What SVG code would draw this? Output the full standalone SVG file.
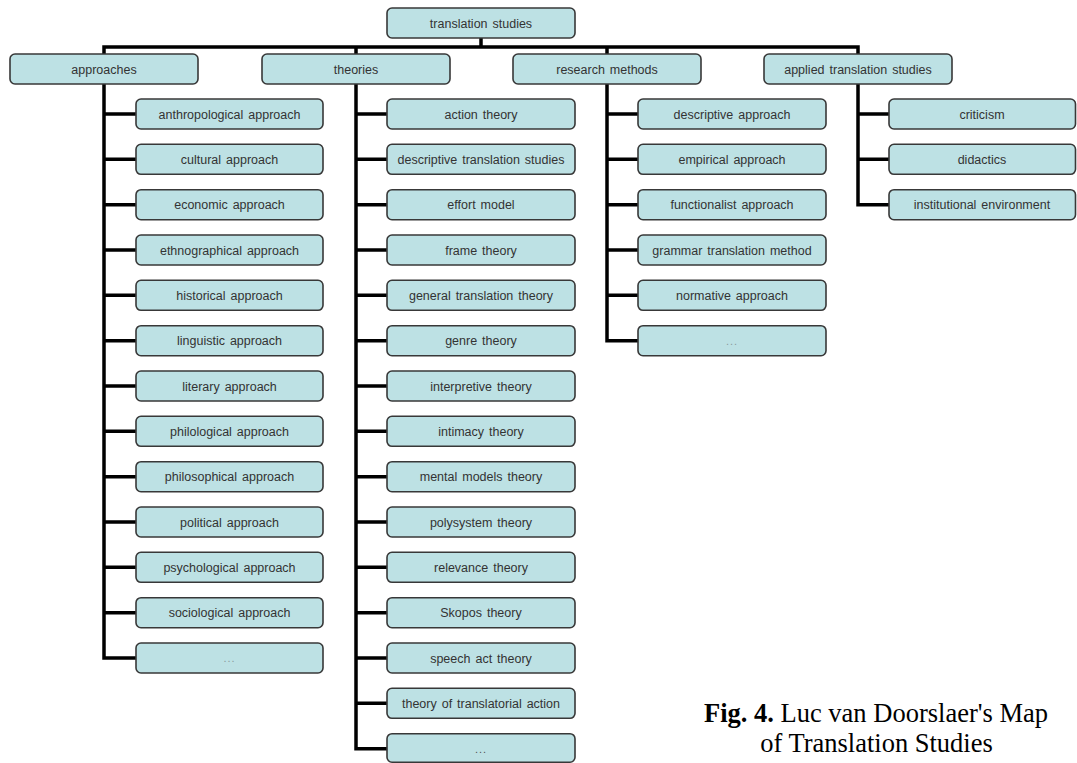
<svg xmlns="http://www.w3.org/2000/svg" width="1077" height="763" viewBox="0 0 1077 763">
<style>
.b{fill:#bde1e4;stroke:#383838;stroke-width:1.6}
.t{font-family:"Liberation Sans",Arial,sans-serif;font-size:12.5px;fill:#333;text-anchor:middle;word-spacing:1.5px}
.d{font-family:"Liberation Sans",Arial,sans-serif;font-size:11px;fill:#8a9a9c;text-anchor:middle;letter-spacing:1px}
.c{fill:none;stroke:#000;stroke-width:3.5;stroke-linejoin:miter}
.cap{font-family:"Liberation Serif","Times New Roman",serif;font-size:26.5px;fill:#000;text-anchor:middle}
</style>
<rect width="1077" height="763" fill="#fff"/>
<g id="connectors" class="c">
<path d="M481,38 V47 M104,55 V47 H858 V55 M356,47 V55 M607,47 V55"/>
<path d="M104,84 V658 H136 M104,114 H136 M104,159.3 H136 M104,204.7 H136 M104,250 H136 M104,295.3 H136 M104,340.7 H136 M104,386 H136 M104,431.3 H136 M104,476.7 H136 M104,522 H136 M104,567.3 H136 M104,612.7 H136"/>
<path d="M356,84 V748.7 H387 M356,114 H387 M356,159.3 H387 M356,204.7 H387 M356,250 H387 M356,295.3 H387 M356,340.7 H387 M356,386 H387 M356,431.3 H387 M356,476.7 H387 M356,522 H387 M356,567.3 H387 M356,612.7 H387 M356,658 H387 M356,703.3 H387"/>
<path d="M607,84 V340.7 H638 M607,114 H638 M607,159.3 H638 M607,204.7 H638 M607,250 H638 M607,295.3 H638"/>
<path d="M858,84 V204.7 H889 M858,114 H889 M858,159.3 H889"/>
</g>
<g id="root"><rect class="b" x="387" y="8" width="188" height="30" rx="5"/><text class="t" x="481" y="27.5">translation studies</text></g>
<g id="approaches"><rect class="b" x="10" y="54" width="188" height="30" rx="5"/><text class="t" x="104" y="73.5">approaches</text></g>
<g id="theories"><rect class="b" x="262" y="54" width="188" height="30" rx="5"/><text class="t" x="356" y="73.5">theories</text></g>
<g id="research-methods"><rect class="b" x="513" y="54" width="188" height="30" rx="5"/><text class="t" x="607" y="73.5">research methods</text></g>
<g id="applied"><rect class="b" x="764" y="54" width="188" height="30" rx="5"/><text class="t" x="858" y="73.5">applied translation studies</text></g>

<g id="a1"><rect class="b" x="136" y="99" width="187" height="30" rx="5"/><text class="t" x="229.5" y="118.5">anthropological approach</text></g>
<g id="a2"><rect class="b" x="136" y="144.3" width="187" height="30" rx="5"/><text class="t" x="229.5" y="163.8">cultural approach</text></g>
<g id="a3"><rect class="b" x="136" y="189.7" width="187" height="30" rx="5"/><text class="t" x="229.5" y="209.2">economic approach</text></g>
<g id="a4"><rect class="b" x="136" y="235" width="187" height="30" rx="5"/><text class="t" x="229.5" y="254.5">ethnographical approach</text></g>
<g id="a5"><rect class="b" x="136" y="280.3" width="187" height="30" rx="5"/><text class="t" x="229.5" y="299.8">historical approach</text></g>
<g id="a6"><rect class="b" x="136" y="325.7" width="187" height="30" rx="5"/><text class="t" x="229.5" y="345.2">linguistic approach</text></g>
<g id="a7"><rect class="b" x="136" y="371" width="187" height="30" rx="5"/><text class="t" x="229.5" y="390.5">literary approach</text></g>
<g id="a8"><rect class="b" x="136" y="416.3" width="187" height="30" rx="5"/><text class="t" x="229.5" y="435.8">philological approach</text></g>
<g id="a9"><rect class="b" x="136" y="461.7" width="187" height="30" rx="5"/><text class="t" x="229.5" y="481.2">philosophical approach</text></g>
<g id="a10"><rect class="b" x="136" y="507" width="187" height="30" rx="5"/><text class="t" x="229.5" y="526.5">political approach</text></g>
<g id="a11"><rect class="b" x="136" y="552.3" width="187" height="30" rx="5"/><text class="t" x="229.5" y="571.8">psychological approach</text></g>
<g id="a12"><rect class="b" x="136" y="597.7" width="187" height="30" rx="5"/><text class="t" x="229.5" y="617.2">sociological approach</text></g>
<g id="a13"><rect class="b" x="136" y="643" width="187" height="30" rx="5"/><text class="d" x="229.5" y="662">...</text></g>

<g id="t1"><rect class="b" x="387" y="99" width="188" height="30" rx="5"/><text class="t" x="481" y="118.5">action theory</text></g>
<g id="t2"><rect class="b" x="387" y="144.3" width="188" height="30" rx="5"/><text class="t" x="481" y="163.8">descriptive translation studies</text></g>
<g id="t3"><rect class="b" x="387" y="189.7" width="188" height="30" rx="5"/><text class="t" x="481" y="209.2">effort model</text></g>
<g id="t4"><rect class="b" x="387" y="235" width="188" height="30" rx="5"/><text class="t" x="481" y="254.5">frame theory</text></g>
<g id="t5"><rect class="b" x="387" y="280.3" width="188" height="30" rx="5"/><text class="t" x="481" y="299.8">general translation theory</text></g>
<g id="t6"><rect class="b" x="387" y="325.7" width="188" height="30" rx="5"/><text class="t" x="481" y="345.2">genre theory</text></g>
<g id="t7"><rect class="b" x="387" y="371" width="188" height="30" rx="5"/><text class="t" x="481" y="390.5">interpretive theory</text></g>
<g id="t8"><rect class="b" x="387" y="416.3" width="188" height="30" rx="5"/><text class="t" x="481" y="435.8">intimacy theory</text></g>
<g id="t9"><rect class="b" x="387" y="461.7" width="188" height="30" rx="5"/><text class="t" x="481" y="481.2">mental models theory</text></g>
<g id="t10"><rect class="b" x="387" y="507" width="188" height="30" rx="5"/><text class="t" x="481" y="526.5">polysystem theory</text></g>
<g id="t11"><rect class="b" x="387" y="552.3" width="188" height="30" rx="5"/><text class="t" x="481" y="571.8">relevance theory</text></g>
<g id="t12"><rect class="b" x="387" y="597.7" width="188" height="30" rx="5"/><text class="t" x="481" y="617.2">Skopos theory</text></g>
<g id="t13"><rect class="b" x="387" y="643" width="188" height="30" rx="5"/><text class="t" x="481" y="662.5">speech act theory</text></g>
<g id="t14"><rect class="b" x="387" y="688.3" width="188" height="30" rx="5"/><text class="t" x="481" y="707.8">theory of translatorial action</text></g>
<g id="t15"><rect class="b" x="387" y="733.7" width="188" height="28.5" rx="5"/><text class="d" x="481" y="752.5" style="fill:#555">...</text></g>

<g id="r1"><rect class="b" x="638" y="99" width="188" height="30" rx="5"/><text class="t" x="732" y="118.5">descriptive approach</text></g>
<g id="r2"><rect class="b" x="638" y="144.3" width="188" height="30" rx="5"/><text class="t" x="732" y="163.8">empirical approach</text></g>
<g id="r3"><rect class="b" x="638" y="189.7" width="188" height="30" rx="5"/><text class="t" x="732" y="209.2">functionalist approach</text></g>
<g id="r4"><rect class="b" x="638" y="235" width="188" height="30" rx="5"/><text class="t" x="732" y="254.5">grammar translation method</text></g>
<g id="r5"><rect class="b" x="638" y="280.3" width="188" height="30" rx="5"/><text class="t" x="732" y="299.8">normative approach</text></g>
<g id="r6"><rect class="b" x="638" y="325.7" width="188" height="30" rx="5"/><text class="d" x="732" y="344.7">...</text></g>

<g id="p1"><rect class="b" x="889" y="99" width="186.5" height="30" rx="5"/><text class="t" x="982" y="118.5">criticism</text></g>
<g id="p2"><rect class="b" x="889" y="144.3" width="186.5" height="30" rx="5"/><text class="t" x="982" y="163.8">didactics</text></g>
<g id="p3"><rect class="b" x="889" y="189.7" width="186.5" height="30" rx="5"/><text class="t" x="982" y="209.2">institutional environment</text></g>

<g id="caption">
<text class="cap" x="876" y="721.5"><tspan font-weight="bold">Fig. 4.</tspan> Luc van Doorslaer's Map</text>
<text class="cap" x="876.5" y="751.5">of Translation Studies</text>
</g>
</svg>
